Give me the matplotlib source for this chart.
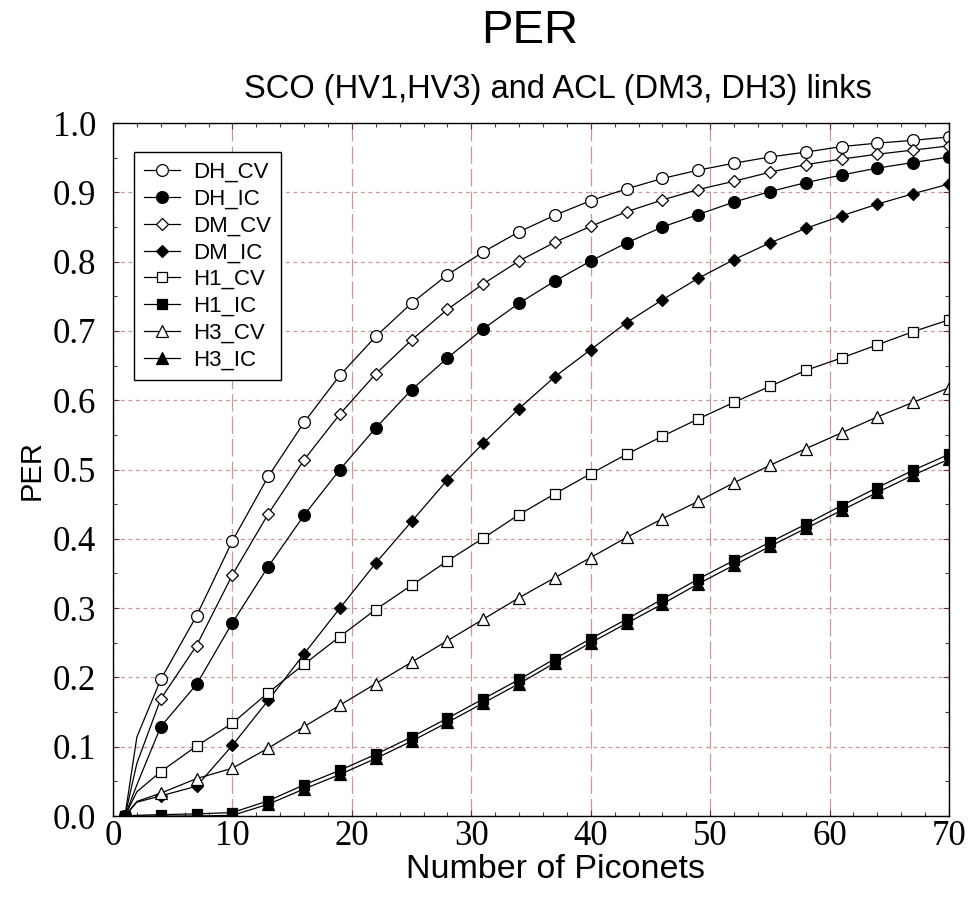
import matplotlib
matplotlib.use("Agg")
import matplotlib.pyplot as plt
from matplotlib.ticker import MultipleLocator, FormatStrFormatter

x = [1, 2, 4, 7, 10, 13, 16, 19, 22, 25, 28, 31, 34, 37, 40, 43, 46, 49, 52, 55, 58, 61, 64, 67, 70]

dh_cv = [0.0, 0.114, 0.197, 0.289, 0.397, 0.490, 0.568, 0.636, 0.692, 0.740, 0.781, 0.814, 0.843, 0.867,
         0.888, 0.905, 0.920, 0.932, 0.942, 0.951, 0.958, 0.966, 0.971, 0.975, 0.980]
dh_ic = [0.0, 0.045, 0.129, 0.190, 0.279, 0.360, 0.434, 0.500, 0.560, 0.615, 0.661, 0.703, 0.740, 0.772,
         0.801, 0.827, 0.850, 0.868, 0.886, 0.901, 0.914, 0.925, 0.935, 0.943, 0.951]
dm_cv = [0.0, 0.076, 0.169, 0.246, 0.348, 0.436, 0.514, 0.580, 0.638, 0.687, 0.731, 0.768, 0.801, 0.828,
         0.851, 0.872, 0.889, 0.904, 0.916, 0.929, 0.940, 0.948, 0.955, 0.961, 0.967]
dm_ic = [0.0, 0.020, 0.029, 0.043, 0.102, 0.167, 0.234, 0.300, 0.365, 0.425, 0.485, 0.538, 0.588, 0.634,
         0.673, 0.712, 0.745, 0.776, 0.803, 0.827, 0.848, 0.866, 0.883, 0.898, 0.912]
h1_cv = [0.0, 0.035, 0.064, 0.101, 0.134, 0.178, 0.219, 0.259, 0.298, 0.333, 0.368, 0.401, 0.435, 0.465,
         0.494, 0.522, 0.548, 0.573, 0.597, 0.620, 0.643, 0.661, 0.680, 0.699, 0.716]
h1_ic = [0.0, 0.001, 0.002, 0.003, 0.005, 0.022, 0.045, 0.066, 0.089, 0.114, 0.141, 0.169, 0.197, 0.227,
         0.256, 0.284, 0.313, 0.342, 0.369, 0.395, 0.421, 0.448, 0.474, 0.499, 0.522]
h3_cv = [0.0, 0.021, 0.033, 0.054, 0.069, 0.098, 0.129, 0.160, 0.191, 0.222, 0.253, 0.284, 0.315, 0.344,
         0.373, 0.402, 0.429, 0.454, 0.481, 0.506, 0.530, 0.553, 0.576, 0.597, 0.618]
h3_ic = [0.0, 0.000, 0.000, 0.000, 0.001, 0.017, 0.039, 0.060, 0.083, 0.108, 0.135, 0.163, 0.191, 0.221,
         0.250, 0.278, 0.306, 0.335, 0.362, 0.389, 0.415, 0.441, 0.467, 0.492, 0.515]

labels = ["DH_CV", "DH_IC", "DM_CV", "DM_IC", "H1_CV", "H1_IC", "H3_CV", "H3_IC"]
series = [dh_cv, dh_ic, dm_cv, dm_ic, h1_cv, h1_ic, h3_cv, h3_ic]
markers = ["o", "o", "D", "D", "s", "s", "^", "^"]
filled = [False, True, False, True, False, True, False, True]
msizes = [8.5, 8.5, 6.0, 6.0, 7.0, 7.0, 8.0, 8.0]

marked = [i for i in range(len(x)) if i != 1]

fig = plt.figure(figsize=(9.69, 8.98), dpi=100)
ax = fig.add_axes([0.1166, 0.0913, 0.8628, 0.7717])

for y, lab, m, f, ms in zip(series, labels, markers, filled, msizes):
    ax.plot(x, y, color="black", linewidth=0.9, marker=m, markersize=ms,
            markerfacecolor="black" if f else "white", markeredgecolor="black",
            markeredgewidth=0.9, markevery=marked, label=lab)

ax.set_xlim(0, 70)
ax.set_ylim(0, 1.0)
ax.xaxis.set_major_locator(MultipleLocator(10))
ax.xaxis.set_minor_locator(MultipleLocator(2))
ax.yaxis.set_major_locator(MultipleLocator(0.1))
ax.yaxis.set_minor_locator(MultipleLocator(0.05))
ax.yaxis.set_major_formatter(FormatStrFormatter("%.1f"))

grid_c = "#c99a9a"
ax.grid(axis="x", which="major", color=grid_c, linewidth=0.9, dashes=(14, 4))
ax.grid(axis="y", which="major", color=grid_c, linewidth=0.9, dashes=(3, 3))

ax.tick_params(which="both", direction="in", top=True, right=True, color="#6a2a4a")
ax.tick_params(which="major", length=4, width=0.8)
ax.tick_params(which="minor", length=3, width=0.8)
for lbl in ax.get_xticklabels() + ax.get_yticklabels():
    lbl.set_family("Liberation Serif")
    lbl.set_fontsize(25)
ax.tick_params(axis="x", pad=3)
ax.tick_params(axis="y", pad=12)

for sp in ax.spines.values():
    sp.set_linewidth(1.0)
    sp.set_color("black")

sans = "Liberation Sans"
H = 898.0
fig.text(556 / 969, 1 - 878 / H, "Number of Piconets", family=sans, fontsize=24.5,
         ha="center", va="baseline")
fig.text(32 / 969, 1 - 470 / H, "PER", family=sans, fontsize=21, rotation=90,
         ha="center", va="center")
fig.text(530 / 969, 1 - 43 / H, "PER", family=sans, fontsize=34, ha="center", va="baseline")
fig.text(558 / 969, 1 - 98 / H, "SCO (HV1,HV3) and ACL (DM3, DH3) links", family=sans,
         fontsize=23.5, ha="center", va="baseline")

leg = ax.legend(loc="upper left", bbox_to_anchor=((134 - 113) / 836, (816 - 152) / 693),
                borderaxespad=0, prop={"family": sans, "size": 16},
                handlelength=1.6, handletextpad=0.6, labelspacing=0.26, borderpad=0.45,
                frameon=True, fancybox=False, edgecolor="black", framealpha=1)
leg.get_frame().set_linewidth(1.0)

fig.savefig("out.png", dpi=100)
